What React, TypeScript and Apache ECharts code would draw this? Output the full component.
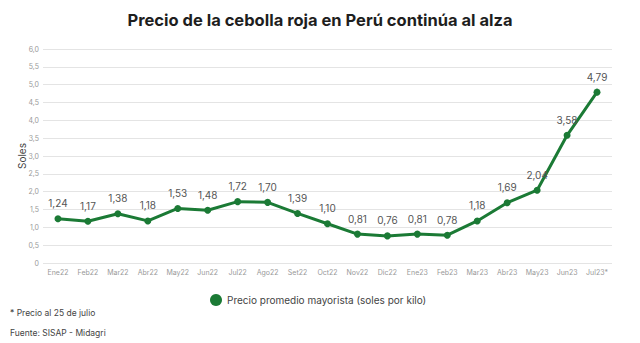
import React, { useEffect, useRef } from "react";
import * as echarts from "echarts";

const categories = ["Ene22","Feb22","Mar22","Abr22","May22","Jun22","Jul22","Ago22","Set22","Oct22","Nov22","Dic22","Ene23","Feb23","Mar23","Abr23","May23","Jun23","Jul23*"];
const prices = [1.24,1.17,1.38,1.18,1.53,1.48,1.72,1.70,1.39,1.10,0.81,0.76,0.81,0.78,1.18,1.69,2.04,3.58,4.79];
const title = "Precio de la cebolla roja en Perú continúa al alza";
const seriesName = "Precio promedio mayorista (soles por kilo)";
const notes = ["* Precio al 25 de julio", "Fuente: SISAP - Midagri"];

const fmt = (v: number) => v.toFixed(2).replace(".", ",");

export default function App() {
  const ref = useRef<HTMLDivElement>(null);
  useEffect(() => {
    const chart = echarts.init(ref.current!, null, { renderer: "svg" });
    const font = "Inter, Roboto, sans-serif";
    chart.setOption({
      animation: false,
      textStyle: { fontFamily: font },
      title: {
        text: title,
        left: "center",
        top: 6,
        textStyle: { fontSize: 16.5, fontWeight: "bold", color: "#1e1e1e", fontFamily: font },
      },
      grid: { left: 43, right: 28, top: 49, bottom: 80 },
      legend: {
        data: [seriesName],
        left: 205,
        top: 289,
        icon: "circle",
        itemWidth: 12,
        itemHeight: 12,
        textStyle: { fontSize: 10, color: "#444" },
      },
      graphic: [
        { type: "text", left: 10, top: 308, style: { text: notes[0], fontSize: 8.5, fill: "#444", fontFamily: font } },
        { type: "text", left: 10, top: 328, style: { text: notes[1], fontSize: 8.5, fill: "#444", fontFamily: font } },
      ],
      xAxis: {
        type: "category",
        data: categories,
        boundaryGap: true,
        axisLine: { show: false },
        axisTick: { show: false },
        axisLabel: { fontSize: 7, color: "#999", margin: 6 },
      },
      yAxis: {
        type: "value",
        min: 0,
        max: 6,
        interval: 0.5,
        name: "Soles",
        nameLocation: "middle",
        nameGap: 16,
        nameMoveOverlap: false,
        nameTextStyle: { fontSize: 10, color: "#444" },
        axisLabel: {
          fontSize: 7,
          color: "#999",
          margin: 4,
          formatter: (v: number) => (v === 0 ? "0" : v.toFixed(1).replace(".", ",")),
        },
        splitLine: { lineStyle: { color: "#e4e4e4", width: 1 } },
      },
      series: [
        {
          name: seriesName,
          type: "line",
          data: prices,
          color: "#1b7a35",
          lineStyle: { width: 3, color: "#1b7a35" },
          symbol: "circle",
          symbolSize: 7,
          itemStyle: { color: "#1b7a35" },
          label: {
            show: true,
            position: "top",
            distance: 7,
            fontSize: 10,
            color: "#555",
            formatter: (p: any) => fmt(p.value),
          },
        },
      ],
    });
    return () => chart.dispose();
  }, []);
  return <div ref={ref} style={{ width: 640, height: 343, position: "absolute", left: 0, top: 0, background: "#fff" }} />;
}
